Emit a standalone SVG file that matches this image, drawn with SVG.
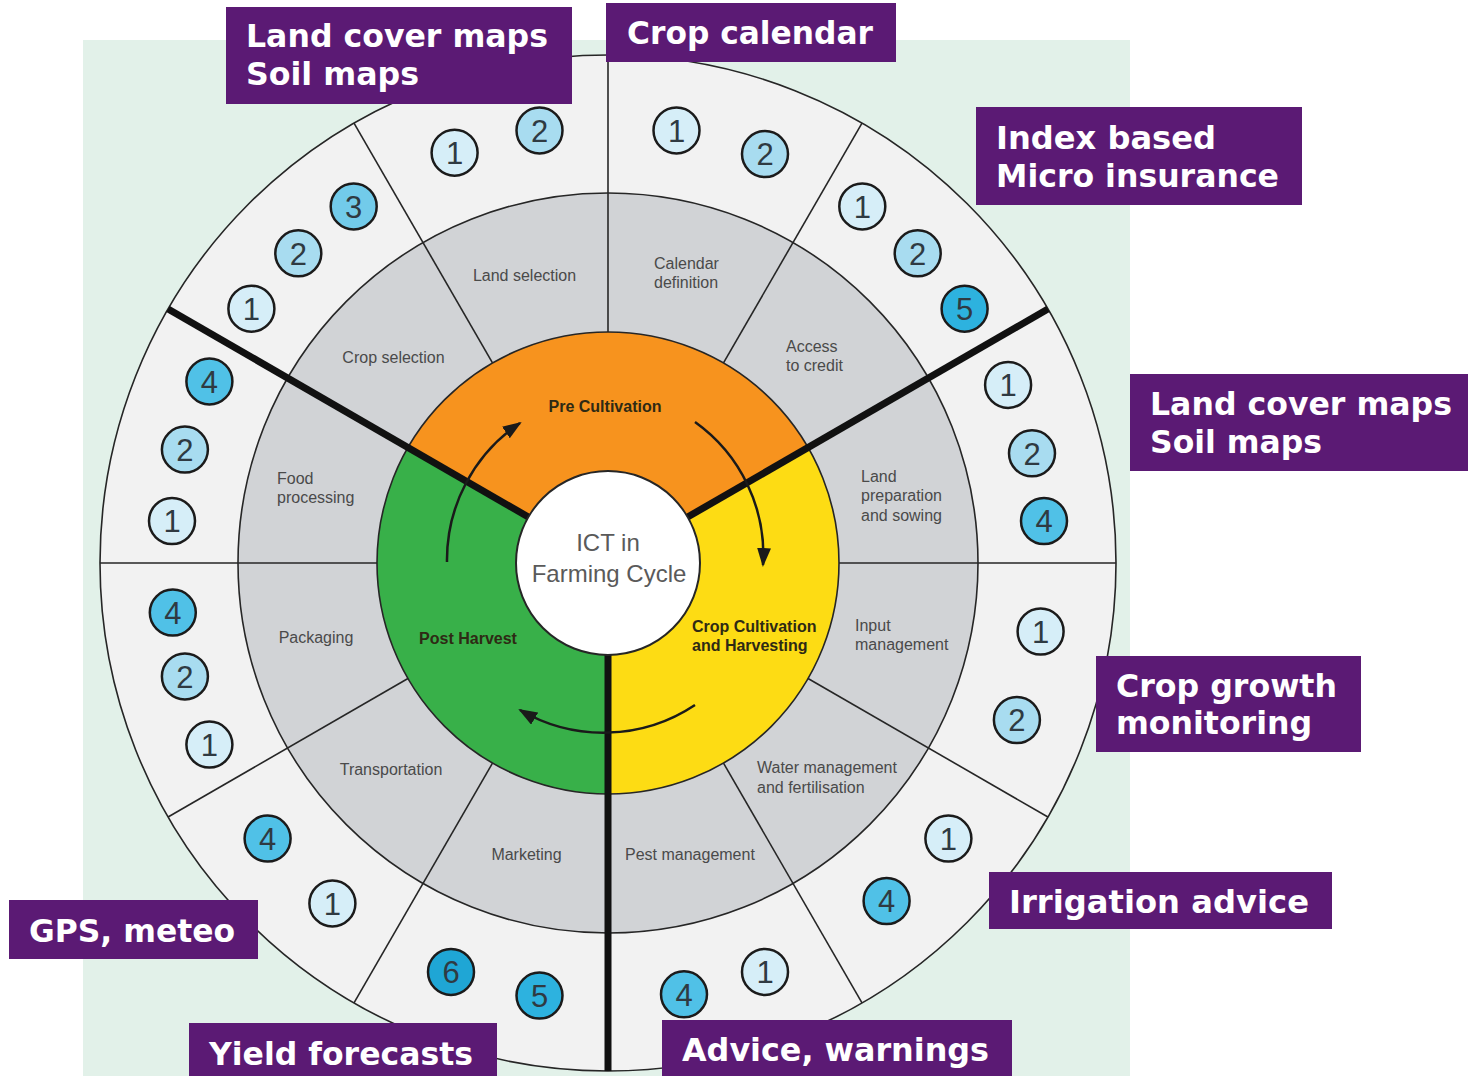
<svg xmlns="http://www.w3.org/2000/svg" width="1468" height="1076" viewBox="0 0 1468 1076">
<defs>
<style>
.ln{stroke:#262626;stroke-width:1.6;fill:none}
.ring-out{stroke:#262626;stroke-width:1.6;fill:#f2f2f2}
.ring-mid{stroke:#262626;stroke-width:1.6;fill:#d1d3d6}
.thick{stroke:#111;stroke-width:7;fill:none;stroke-linecap:butt}
.seg{font-family:"Liberation Sans",Arial,sans-serif;font-size:16px;fill:#4a4a4a}
.segm{font-family:"Liberation Sans",Arial,sans-serif;font-size:16px;fill:#4a4a4a;text-anchor:middle}
.phase{font-family:"Liberation Sans",Arial,sans-serif;font-size:16px;font-weight:bold;fill:#2e2a14}
.center{font-family:"Liberation Sans",Arial,sans-serif;font-size:24px;fill:#5a5a5a;text-anchor:middle}
.bc{stroke:#1b1b1b;stroke-width:2.5}
.b1{fill:#d6eef8}.b2{fill:#a8dcf0}.b3{fill:#72cbea}.b4{fill:#50c1e7}.b5{fill:#2db2df}.b6{fill:#1fa6d5}
.dg{font-family:"Liberation Sans",Arial,sans-serif;font-size:31px;fill:#2f3a42;text-anchor:middle}
.pbox{fill:#5b1a74}
.ptxt{font-family:"DejaVu Sans","Liberation Sans",sans-serif;font-size:32px;font-weight:bold;fill:#ffffff}
.arr{stroke:#1a1a1a;stroke-width:2.5;fill:none}
</style>
<marker id="ah" markerUnits="userSpaceOnUse" markerWidth="20" markerHeight="14" refX="17" refY="7" orient="auto">
<path d="M0,0 L19,7 L0,14 Z" fill="#1a1a1a"/>
</marker>
</defs>

<rect x="83" y="40" width="1047" height="1036" fill="#e2f1e9"/>

<g id="wheel">
<circle cx="608" cy="563" r="508" class="ring-out"/>
<circle cx="608" cy="563" r="370" class="ring-mid"/>
<path d="M608 563 L407.95 447.5 A231 231 0 0 1 808.05 447.5 Z" fill="#f7931e"/>
<path d="M608 563 L808.05 447.5 A231 231 0 0 1 608 794 Z" fill="#fddc14"/>
<path d="M608 563 L608 794 A231 231 0 0 1 407.95 447.5 Z" fill="#38b049"/>
<circle cx="608" cy="563" r="231" class="ln" stroke-width="2"/>
<g id="dividers">
<line class="ln" x1="608" y1="332" x2="608" y2="55"/>
<line class="ln" x1="723.5" y1="362.95" x2="862" y2="123.06"/>
<line class="ln" x1="839" y1="563" x2="1116" y2="563"/>
<line class="ln" x1="808.05" y1="678.5" x2="1047.94" y2="817"/>
<line class="ln" x1="723.5" y1="763.05" x2="862" y2="1002.94"/>
<line class="ln" x1="492.5" y1="763.05" x2="354" y2="1002.94"/>
<line class="ln" x1="407.95" y1="678.5" x2="168.06" y2="817"/>
<line class="ln" x1="377" y1="563" x2="100" y2="563"/>
<line class="ln" x1="492.5" y1="362.95" x2="354" y2="123.06"/>
<line class="thick" x1="687.67" y1="517" x2="1047.94" y2="309"/>
<line class="thick" x1="608" y1="655" x2="608" y2="1071"/>
<line class="thick" x1="528.33" y1="517" x2="168.06" y2="309"/>
</g>
<circle cx="608" cy="563" r="92" fill="#ffffff" stroke="#262626" stroke-width="2"/>
</g>

<g id="center-node">
<text class="center" x="608" y="551">ICT in</text>
<text class="center" x="609" y="582">Farming Cycle</text>
</g>

<g id="phase-pre-cultivation"><text class="phase" x="605" y="412" text-anchor="middle">Pre Cultivation</text></g>
<g id="phase-crop-cultivation"><text class="phase" x="692" y="632">Crop Cultivation</text><text class="phase" x="692" y="651">and Harvesting</text></g>
<g id="phase-post-harvest"><text class="phase" x="468" y="644" text-anchor="middle">Post Harvest</text></g>

<g id="seg-land-selection">
<text class="segm" x="524.5" y="281">Land selection</text>
<circle class="bc b1" cx="454.6" cy="152.7" r="23"/><text class="dg" x="454.6" y="164">1</text>
<circle class="bc b2" cx="539.5" cy="130.4" r="23"/><text class="dg" x="539.5" y="141.7">2</text>
</g>
<g id="seg-calendar-definition">
<text class="seg" x="654" y="269">Calendar</text><text class="seg" x="654" y="288">definition</text>
<circle class="bc b1" cx="676.5" cy="130.4" r="23"/><text class="dg" x="676.5" y="141.7">1</text>
<circle class="bc b2" cx="765" cy="154.1" r="23"/><text class="dg" x="765" y="165.4">2</text>
</g>
<g id="seg-access-to-credit">
<text class="seg" x="786" y="352">Access</text><text class="seg" x="786" y="371">to credit</text>
<circle class="bc b1" cx="862.3" cy="206.4" r="23"/><text class="dg" x="862.3" y="217.7">1</text>
<circle class="bc b2" cx="917.7" cy="253.3" r="23"/><text class="dg" x="917.7" y="264.6">2</text>
<circle class="bc b5" cx="964.6" cy="308.7" r="23"/><text class="dg" x="964.6" y="320">5</text>
</g>
<g id="seg-land-preparation">
<text class="seg" x="861" y="482">Land</text><text class="seg" x="861" y="501">preparation</text><text class="seg" x="861" y="521">and sowing</text>
<circle class="bc b1" cx="1008.1" cy="384.9" r="23"/><text class="dg" x="1008.1" y="396.2">1</text>
<circle class="bc b2" cx="1032" cy="453.3" r="23"/><text class="dg" x="1032" y="464.6">2</text>
<circle class="bc b4" cx="1044" cy="521" r="23"/><text class="dg" x="1044" y="532.3">4</text>
</g>
<g id="seg-input-management">
<text class="seg" x="855" y="631">Input</text><text class="seg" x="855" y="650">management</text>
<circle class="bc b1" cx="1040.6" cy="631.5" r="23"/><text class="dg" x="1040.6" y="642.8">1</text>
<circle class="bc b2" cx="1016.9" cy="720" r="23"/><text class="dg" x="1016.9" y="731.3">2</text>
</g>
<g id="seg-water-management">
<text class="seg" x="757" y="773">Water management</text><text class="seg" x="757" y="793">and fertilisation</text>
<circle class="bc b1" cx="948.4" cy="838.6" r="23"/><text class="dg" x="948.4" y="849.9">1</text>
<circle class="bc b4" cx="886.6" cy="901" r="23"/><text class="dg" x="886.6" y="912.3">4</text>
</g>
<g id="seg-pest-management">
<text class="seg" x="625" y="860">Pest management</text>
<circle class="bc b1" cx="765" cy="971.9" r="23"/><text class="dg" x="765" y="983.2">1</text>
<circle class="bc b4" cx="684" cy="994.3" r="23"/><text class="dg" x="684" y="1005.6">4</text>
</g>
<g id="seg-marketing">
<text class="segm" x="526.5" y="860">Marketing</text>
<circle class="bc b5" cx="539.5" cy="995.6" r="23"/><text class="dg" x="539.5" y="1006.9">5</text>
<circle class="bc b6" cx="451" cy="971.9" r="23"/><text class="dg" x="451" y="983.2">6</text>
</g>
<g id="seg-transportation">
<text class="segm" x="391" y="775">Transportation</text>
<circle class="bc b1" cx="332.4" cy="903.4" r="23"/><text class="dg" x="332.4" y="914.7">1</text>
<circle class="bc b4" cx="267.6" cy="838.6" r="23"/><text class="dg" x="267.6" y="849.9">4</text>
</g>
<g id="seg-packaging">
<text class="segm" x="316" y="643">Packaging</text>
<circle class="bc b1" cx="209.4" cy="744.6" r="23"/><text class="dg" x="209.4" y="755.9">1</text>
<circle class="bc b2" cx="184.9" cy="676.4" r="23"/><text class="dg" x="184.9" y="687.7">2</text>
<circle class="bc b4" cx="172.8" cy="612.6" r="23"/><text class="dg" x="172.8" y="623.9">4</text>
</g>
<g id="seg-food-processing">
<text class="seg" x="277" y="484">Food</text><text class="seg" x="277" y="503">processing</text>
<circle class="bc b1" cx="172" cy="521" r="23"/><text class="dg" x="172" y="532.3">1</text>
<circle class="bc b2" cx="184.9" cy="449.6" r="23"/><text class="dg" x="184.9" y="460.9">2</text>
<circle class="bc b4" cx="209.4" cy="381.4" r="23"/><text class="dg" x="209.4" y="392.7">4</text>
</g>
<g id="seg-crop-selection">
<text class="segm" x="393.5" y="363">Crop selection</text>
<circle class="bc b1" cx="251.4" cy="308.7" r="23"/><text class="dg" x="251.4" y="320">1</text>
<circle class="bc b2" cx="298.3" cy="253.3" r="23"/><text class="dg" x="298.3" y="264.6">2</text>
<circle class="bc b3" cx="353.7" cy="206.4" r="23"/><text class="dg" x="353.7" y="217.7">3</text>
</g>

<g id="connectors">
<path class="arr" d="M447 562 A165 165 0 0 1 520 423" marker-end="url(#ah)"/>
<path class="arr" d="M695 422 A163 163 0 0 1 763 565" marker-end="url(#ah)"/>
<path class="arr" d="M695 705 A165 165 0 0 1 520 710" marker-end="url(#ah)"/>
</g>

<g id="label-land-cover-top">
<rect class="pbox" x="226" y="7" width="346" height="97"/>
<text class="ptxt" x="246" y="47" textLength="302" lengthAdjust="spacingAndGlyphs">Land cover maps</text>
<text class="ptxt" x="246" y="85" textLength="173" lengthAdjust="spacingAndGlyphs">Soil maps</text>
</g>
<g id="label-crop-calendar">
<rect class="pbox" x="606" y="3" width="290" height="59"/>
<text class="ptxt" x="627" y="44" textLength="246" lengthAdjust="spacingAndGlyphs">Crop calendar</text>
</g>
<g id="label-index-insurance">
<rect class="pbox" x="976" y="107" width="326" height="98"/>
<text class="ptxt" x="996" y="149" textLength="220" lengthAdjust="spacingAndGlyphs">Index based</text>
<text class="ptxt" x="996" y="187" textLength="283" lengthAdjust="spacingAndGlyphs">Micro insurance</text>
</g>
<g id="label-land-cover-right">
<rect class="pbox" x="1130" y="374" width="338" height="97"/>
<text class="ptxt" x="1150" y="415" textLength="302" lengthAdjust="spacingAndGlyphs">Land cover maps</text>
<text class="ptxt" x="1150" y="453" textLength="172" lengthAdjust="spacingAndGlyphs">Soil maps</text>
</g>
<g id="label-crop-growth">
<rect class="pbox" x="1096" y="656" width="265" height="96"/>
<text class="ptxt" x="1116" y="697" textLength="221" lengthAdjust="spacingAndGlyphs">Crop growth</text>
<text class="ptxt" x="1116" y="734" textLength="196" lengthAdjust="spacingAndGlyphs">monitoring</text>
</g>
<g id="label-irrigation">
<rect class="pbox" x="989" y="872" width="343" height="57"/>
<text class="ptxt" x="1009" y="913" textLength="300" lengthAdjust="spacingAndGlyphs">Irrigation advice</text>
</g>
<g id="label-gps">
<rect class="pbox" x="9" y="900" width="249" height="59"/>
<text class="ptxt" x="29" y="942" textLength="206" lengthAdjust="spacingAndGlyphs">GPS, meteo</text>
</g>
<g id="label-yield">
<rect class="pbox" x="189" y="1023" width="308" height="53"/>
<text class="ptxt" x="209" y="1065" textLength="264" lengthAdjust="spacingAndGlyphs">Yield forecasts</text>
</g>
<g id="label-advice">
<rect class="pbox" x="662" y="1020" width="350" height="56"/>
<text class="ptxt" x="682" y="1061" textLength="307" lengthAdjust="spacingAndGlyphs">Advice, warnings</text>
</g>
</svg>
